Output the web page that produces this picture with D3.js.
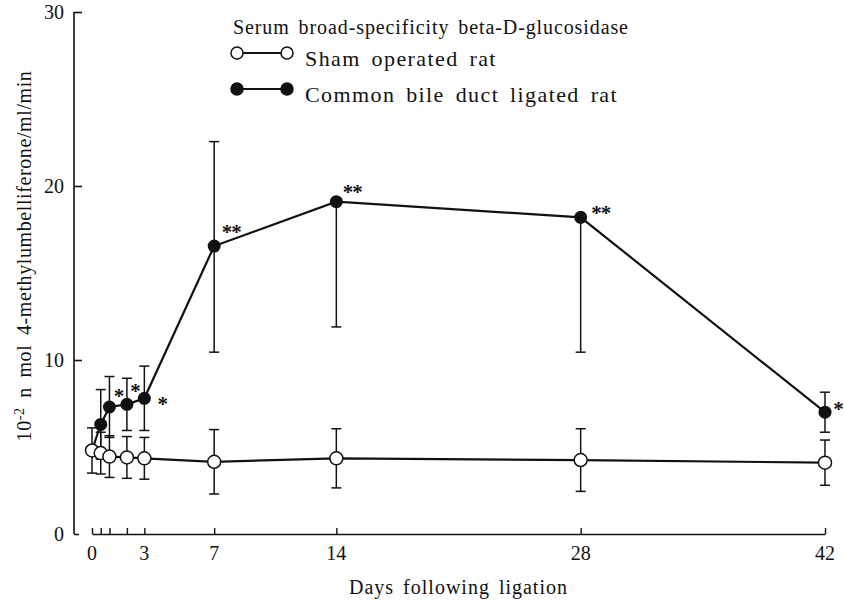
<!DOCTYPE html>
<html>
<head>
<meta charset="utf-8">
<script src="https://cdn.jsdelivr.net/npm/d3@7/dist/d3.min.js"></script>
<style>
  body { margin: 0; background: #fff; }
  svg { display: block; }
  text { font-family: "Liberation Serif", "Times New Roman", serif; fill: #111; }
</style>
</head>
<body>
<svg id="chart" width="844" height="603"></svg>
<script>
// values (days after ligation, 10^-2 nmol/ml/min)
const days = [0, 0.5, 1, 2, 3, 7, 14, 28, 42];
const shamMean = [4.8, 4.65, 4.45, 4.4, 4.35, 4.15, 4.35, 4.25, 4.1];
const shamErr = [1.3, 1.2, 1.2, 1.2, 1.2, 1.85, 1.7, 1.8, 1.3];
const cbdlMean = [4.8, 6.3, 7.3, 7.45, 7.8, 16.55, 19.1, 18.2, 7.0];
const cbdlErrUp = [0, 2.0, 1.75, 1.5, 1.85, 6.0, 0, 0, 1.15];   // upper bars not drawn on days 14, 28
const cbdlErrDown = [0, 2.0, 1.75, 1.5, 1.85, 6.1, 7.2, 7.75, 1.15];
const cbdlSig = ["", "", "*", "*", "*", "**", "**", "**", "*"];

const xTickValues = [0, 0.5, 1, 2, 3, 7, 14, 28, 42];
const xTickLabels = [0, 3, 7, 14, 28, 42];
const yTickValues = [0, 10, 20, 30];

const legendTitle = "Serum broad-specificity beta-D-glucosidase";
const seriesNames = ["Sham operated rat", "Common bile duct ligated rat"];

let svg = d3.select("#chart");

// axes were drawn apart in the original: y axis sits left of day 0
let x = d3.scaleLinear().domain([0, 42]).range([92, 825]);
let y = d3.scaleLinear().domain([0, 30]).range([534, 12]);
let yAxisX = 74;

// y axis (ticks point inward)
let yGroup = svg.append("g").attr("transform", "translate(" + yAxisX + ",0)");
yGroup.call(d3.axisRight(y).tickValues(yTickValues).tickSize(8).tickFormat(""));
yGroup.select(".domain").remove();
yGroup.append("line")
  .attr("x1", 0).attr("x2", 0)
  .attr("y1", y(30)).attr("y2", y(0))
  .attr("stroke", "#111").attr("stroke-width", 1.6);
yGroup.selectAll(".tick line").attr("stroke", "#111").attr("stroke-width", 1.6);
yGroup.selectAll(".tick").filter(d => d == 0).select("line").attr("x2", 5);

svg.append("g").selectAll("text")
  .data(yTickValues)
  .join("text")
  .attr("x", 64)
  .attr("y", d => y(d) + 7)
  .attr("text-anchor", "end")
  .attr("font-size", 20)
  .text(d => d);

// x axis (ticks point up)
let xGroup = svg.append("g").attr("transform", "translate(0," + y(0) + ")");
xGroup.call(d3.axisTop(x).tickValues(xTickValues).tickSize(6).tickSizeOuter(0).tickFormat(""));
xGroup.select(".domain").attr("stroke", "#111").attr("stroke-width", 1.6);
xGroup.selectAll(".tick line").attr("stroke", "#111").attr("stroke-width", 1.4);

svg.append("g").selectAll("text")
  .data(xTickLabels)
  .join("text")
  .attr("x", d => x(d))
  .attr("y", 560)
  .attr("text-anchor", "middle")
  .attr("font-size", 20)
  .text(d => d);

svg.append("text")
  .attr("x", x(21))
  .attr("y", 594)
  .attr("text-anchor", "middle")
  .attr("font-size", 20)
  .attr("letter-spacing", 1)
  .attr("word-spacing", 3)
  .text("Days following ligation");

// y title with superscript
let yTitle = svg.append("text")
  .attr("transform", "translate(31,256) rotate(-90)")
  .attr("text-anchor", "middle")
  .attr("font-size", 20)
  .attr("letter-spacing", 0.6)
  .attr("word-spacing", 4);
yTitle.append("tspan").text("10");
yTitle.append("tspan").attr("dy", -7).attr("font-size", 14).text("-2");
yTitle.append("tspan").attr("dy", 7).text(" n mol 4-methylumbelliferone/ml/min");

// --- common bile duct ligated series (drawn first, sham sits on top)
let plot = svg.append("g");

let cbdl = days.map((d, i) => ({day: d, mean: cbdlMean[i], up: cbdlErrUp[i], down: cbdlErrDown[i], sig: cbdlSig[i]}));
let sham = days.map((d, i) => ({day: d, mean: shamMean[i], up: shamErr[i], down: shamErr[i]}));

let drawErrors = function(g, rows) {
  rows.forEach(r => {
    let cx = x(r.day);
    if (r.up > 0) {
      g.append("line").attr("x1", cx).attr("x2", cx)
        .attr("y1", y(r.mean)).attr("y2", y(r.mean + r.up));
      g.append("line").attr("x1", cx - 5).attr("x2", cx + 5)
        .attr("y1", y(r.mean + r.up)).attr("y2", y(r.mean + r.up));
    }
    if (r.down > 0) {
      g.append("line").attr("x1", cx).attr("x2", cx)
        .attr("y1", y(r.mean)).attr("y2", y(r.mean - r.down));
      g.append("line").attr("x1", cx - 5).attr("x2", cx + 5)
        .attr("y1", y(r.mean - r.down)).attr("y2", y(r.mean - r.down));
    }
  });
  g.selectAll("line").attr("stroke", "#111").attr("stroke-width", 1.5);
};

let line = d3.line().x(d => x(d.day)).y(d => y(d.mean));

drawErrors(plot.append("g"), cbdl);
plot.append("path").datum(cbdl)
  .attr("d", line).attr("fill", "none").attr("stroke", "#111").attr("stroke-width", 2.2);
plot.append("g").selectAll("circle")
  .data(cbdl)
  .join("circle")
  .attr("cx", d => x(d.day)).attr("cy", d => y(d.mean))
  .attr("r", 6.5).attr("fill", "#111");

// significance marks, placed beside each point
let sigOffset = [[0, 0], [0, 0], [9, -15], [8, -17], [18, 2], [17, -18], [16, -14], [20, -8], [13, -7]];
plot.append("g").selectAll("text")
  .data(cbdl)
  .join("text")
  .attr("x", (d, i) => x(d.day) + sigOffset[i][0])
  .attr("y", (d, i) => y(d.mean) + sigOffset[i][1] + 11)
  .attr("text-anchor", "middle")
  .attr("font-size", 21)
  .attr("font-weight", "bold")
  .attr("letter-spacing", -1)
  .text(d => d.sig);

// --- sham series
drawErrors(plot.append("g"), sham);
plot.append("path").datum(sham)
  .attr("d", line).attr("fill", "none").attr("stroke", "#111").attr("stroke-width", 2.2);
plot.append("g").selectAll("circle")
  .data(sham)
  .join("circle")
  .attr("cx", d => x(d.day)).attr("cy", d => y(d.mean))
  .attr("r", 6.5).attr("fill", "#fff").attr("stroke", "#111").attr("stroke-width", 1.5);

// --- legend
let legend = svg.append("g");
legend.append("text")
  .attr("x", 233).attr("y", 34)
  .attr("font-size", 20)
  .attr("letter-spacing", 0.9)
  .attr("word-spacing", 3)
  .text(legendTitle);

let legendRows = [{name: seriesNames[0], fill: "#fff", y: 53}, {name: seriesNames[1], fill: "#111", y: 89}];
legendRows.forEach(r => {
  legend.append("line")
    .attr("x1", 237).attr("x2", 287).attr("y1", r.y).attr("y2", r.y)
    .attr("stroke", "#111").attr("stroke-width", 2);
  [237, 287].forEach(cx => {
    legend.append("circle")
      .attr("cx", cx).attr("cy", r.y).attr("r", 6)
      .attr("fill", r.fill).attr("stroke", "#111").attr("stroke-width", 1.5);
  });
  legend.append("text")
    .attr("x", 305).attr("y", r.y + 13)
    .attr("font-size", 22)
    .attr("letter-spacing", 1.4)
    .attr("word-spacing", 4)
    .text(r.name);
});
</script>
</body>
</html>
